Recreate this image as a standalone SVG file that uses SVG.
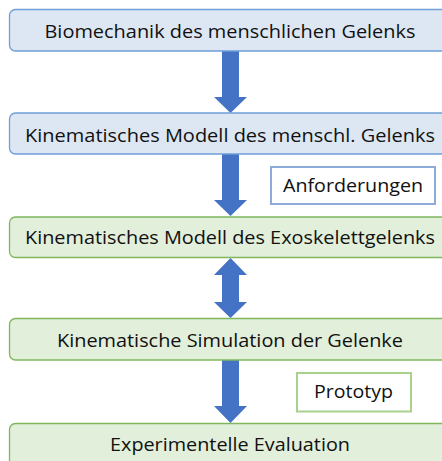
<svg xmlns="http://www.w3.org/2000/svg" width="442" height="461" viewBox="0 0 442 461">
  <defs>
    <style>
      .blue { fill: #dde7f4; stroke: #6f9fd8; stroke-width: 1.3; }
      .green { fill: #e2efda; stroke: #7fb85c; stroke-width: 1.3; }
      .lbl { font-family: "Open Sans", "Noto Sans", "Liberation Sans", sans-serif; font-size: 18px; fill: #111; text-anchor: middle; }
      .tag-blue { fill: #ffffff; stroke: #8eaadb; stroke-width: 2; }
      .tag-green { fill: #ffffff; stroke: #a9d18e; stroke-width: 2; }
      .arrow { fill: #4472c4; }
    </style>
  </defs>

  <rect width="442" height="461" fill="#ffffff"/>

  <g id="connectors">
    <polygon class="arrow" points="222,51 239,51 239,97 247,97 230.5,113 214,97 222,97"/>
    <polygon class="arrow" points="222,154 239,154 239,200 247,200 230.5,216 214,200 222,200"/>
    <polygon class="arrow" points="230.5,258 247,275 239,275 239,302 247,302 230.5,318 214,302 222,302 222,275 214,275"/>
    <polygon class="arrow" points="222,360 239,360 239,406 247,406 230.5,423 214,406 222,406"/>
  </g>

  <g id="node-biomechanik">
    <rect class="blue" x="9.5" y="9.5" width="450" height="41.5" rx="6"/>
    <text class="lbl" x="230" y="38" textLength="371" lengthAdjust="spacingAndGlyphs">Biomechanik des menschlichen Gelenks</text>
  </g>

  <g id="node-modell-mensch">
    <rect class="blue" x="9.5" y="113" width="450" height="41" rx="6"/>
    <text class="lbl" x="230" y="142" textLength="410" lengthAdjust="spacingAndGlyphs">Kinematisches Modell des menschl. Gelenks</text>
  </g>

  <g id="node-anforderungen">
    <rect class="tag-blue" x="271" y="167" width="164" height="37"/>
    <text class="lbl" x="353" y="192" textLength="140" lengthAdjust="spacingAndGlyphs">Anforderungen</text>
  </g>

  <g id="node-modell-exo">
    <rect class="green" x="9.5" y="217" width="450" height="40.5" rx="6"/>
    <text class="lbl" x="230" y="244" textLength="410" lengthAdjust="spacingAndGlyphs">Kinematisches Modell des Exoskelettgelenks</text>
  </g>

  <g id="node-simulation">
    <rect class="green" x="9.5" y="318.5" width="450" height="41.5" rx="6"/>
    <text class="lbl" x="230" y="347" textLength="346" lengthAdjust="spacingAndGlyphs">Kinematische Simulation der Gelenke</text>
  </g>

  <g id="node-prototyp">
    <rect class="tag-green" x="297" y="373" width="114" height="38.5"/>
    <text class="lbl" x="353.5" y="398" textLength="79" lengthAdjust="spacingAndGlyphs">Prototyp</text>
  </g>

  <g id="node-evaluation">
    <rect class="green" x="9.5" y="423.5" width="450" height="45" rx="6"/>
    <text class="lbl" x="230" y="451" textLength="240" lengthAdjust="spacingAndGlyphs">Experimentelle Evaluation</text>
  </g>
</svg>
